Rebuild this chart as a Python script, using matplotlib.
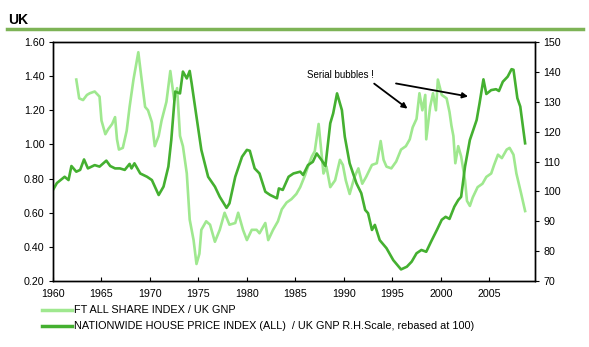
import matplotlib
matplotlib.use("Agg")
import matplotlib.pyplot as plt
from matplotlib.lines import Line2D

plt.rcParams['font.family'] = ['Liberation Sans', 'DejaVu Sans']

# FT All Share index / UK GNP (left scale)
share_years = [1962.4, 1962.7, 1963.1, 1963.5, 1963.8, 1964.3, 1964.8, 1965.0, 1965.4, 1965.7,
               1966.1, 1966.4, 1966.6, 1966.8, 1967.2, 1967.6, 1967.9, 1968.3, 1968.8, 1969.1,
               1969.5, 1969.8, 1970.2, 1970.5, 1970.9, 1971.2, 1971.7, 1972.1, 1972.5, 1972.8,
               1973.1, 1973.4, 1973.8, 1974.1, 1974.5, 1974.8, 1975.1, 1975.3, 1975.8, 1976.2,
               1976.7, 1977.2, 1977.7, 1978.2, 1978.8, 1979.1, 1979.6, 1980.0, 1980.5, 1981.0,
               1981.3, 1981.9, 1982.2, 1982.7, 1983.2, 1983.6, 1984.1, 1984.6, 1985.1, 1985.5,
               1986.0, 1986.3, 1986.7, 1987.0, 1987.4, 1987.9, 1988.2, 1988.6, 1989.1, 1989.6,
               1989.9, 1990.2, 1990.6, 1991.1, 1991.5, 1991.9, 1992.3, 1992.9, 1993.4, 1993.8,
               1994.1, 1994.4, 1994.9, 1995.4, 1995.9, 1996.4, 1996.8, 1997.1, 1997.5, 1997.8,
               1998.1, 1998.4, 1998.5, 1998.9, 1999.2, 1999.5, 1999.7, 2000.1, 2000.6, 2000.9,
               2001.1, 2001.3, 2001.5, 2001.8, 2002.1, 2002.5, 2002.7, 2003.0, 2003.3, 2003.8,
               2004.3, 2004.7, 2005.2, 2005.5, 2005.9, 2006.3, 2006.8, 2007.1, 2007.5, 2007.8,
               2008.3, 2008.7]
share_vals = [1.38, 1.27, 1.26, 1.29, 1.30, 1.31, 1.28, 1.14, 1.06, 1.09,
              1.12, 1.16, 1.03, 0.97, 0.98, 1.08, 1.22, 1.38, 1.54, 1.40,
              1.22, 1.20, 1.13, 0.99, 1.05, 1.14, 1.25, 1.43, 1.26, 1.33,
              1.05, 0.99, 0.83, 0.56, 0.44, 0.30, 0.36, 0.50, 0.55, 0.53,
              0.43, 0.50, 0.60, 0.53, 0.54, 0.60, 0.50, 0.44, 0.50, 0.50,
              0.48, 0.54, 0.44, 0.50, 0.55, 0.62, 0.66, 0.68, 0.71, 0.75,
              0.82, 0.87, 0.93, 0.96, 1.12, 0.83, 0.87, 0.75, 0.79, 0.91,
              0.88, 0.79, 0.71, 0.81, 0.86, 0.77, 0.81, 0.88, 0.89, 1.02,
              0.91, 0.87, 0.86, 0.90, 0.97, 0.99, 1.03, 1.10, 1.15, 1.30,
              1.20, 1.29, 1.03, 1.22, 1.30, 1.20, 1.38, 1.29, 1.27, 1.19,
              1.11, 1.05, 0.89, 0.99, 0.93, 0.79, 0.67, 0.64, 0.69, 0.75,
              0.77, 0.81, 0.83, 0.88, 0.94, 0.92, 0.97, 0.98, 0.94, 0.83,
              0.71, 0.61]

# Nationwide house price index / UK GNP, rebased at 100 (right scale)
house_years = [1960.0, 1960.4, 1961.2, 1961.6, 1961.9, 1962.4, 1962.8, 1963.2, 1963.6, 1964.3,
               1964.8, 1965.5, 1965.9, 1966.4, 1966.9, 1967.4, 1967.9, 1968.1, 1968.4, 1969.0,
               1969.7, 1970.2, 1970.9, 1971.4, 1971.9, 1972.2, 1972.6, 1973.1, 1973.4, 1973.8,
               1974.1, 1974.3, 1974.8, 1975.3, 1976.0, 1976.7, 1977.2, 1977.9, 1978.2, 1978.8,
               1979.5, 1980.0, 1980.3, 1980.8, 1981.3, 1981.9, 1982.4, 1983.1, 1983.3, 1983.7,
               1984.3, 1984.8, 1985.5, 1985.8, 1986.3, 1986.8, 1987.2, 1987.7, 1988.1, 1988.6,
               1988.9, 1989.3, 1989.8, 1990.1, 1990.6, 1991.3, 1991.8, 1992.2, 1992.5, 1992.9,
               1993.2, 1993.7, 1994.4, 1995.1, 1995.9, 1996.5, 1997.0, 1997.5, 1998.0, 1998.5,
               1999.0, 1999.6, 2000.1, 2000.5, 2000.9, 2001.4, 2001.8, 2002.1, 2002.5, 2003.0,
               2003.7, 2004.0, 2004.4, 2004.7, 2005.2, 2005.7, 2006.0, 2006.4, 2006.9, 2007.3,
               2007.5, 2007.9, 2008.2, 2008.7]
house_vals = [100.5, 102.8, 104.9, 103.8, 108.5, 106.6, 107.2, 110.7, 107.7, 108.8,
              108.3, 110.3, 108.5, 107.7, 107.7, 107.2, 109.2, 107.7, 109.4, 106.0,
              104.9, 103.8, 98.8, 101.6, 108.3, 117.2, 133.4, 132.8, 140.1, 137.8,
              140.3, 136.2, 125.0, 113.9, 104.9, 101.6, 98.2, 94.5, 96.0, 104.9,
              111.6, 113.9, 113.6, 107.7, 106.0, 99.9, 98.8, 97.7, 101.0, 100.5,
              104.9, 106.0, 106.6, 105.5, 108.8, 109.9, 112.7, 110.5, 108.5, 122.8,
              126.1, 132.8, 127.2, 118.3, 109.4, 102.7, 99.4, 93.8, 92.7, 87.1,
              88.8, 83.7, 81.0, 77.0, 73.9, 74.8, 76.5, 79.3, 80.4, 79.8,
              83.2, 87.1, 90.5, 91.5, 90.8, 94.9, 97.1, 98.2, 108.3, 117.2,
              123.9, 129.5, 137.5, 132.6, 133.9, 134.2, 133.6, 136.7, 138.4, 140.9,
              140.7, 131.2, 128.4, 116.1]

x_ticks = [1960, 1965, 1970, 1975, 1980, 1985, 1990, 1995, 2000, 2005]
left_ticks = [0.20, 0.40, 0.60, 0.80, 1.00, 1.20, 1.40, 1.60]
right_ticks = [70, 80, 90, 100, 110, 120, 130, 140, 150]

light = '#9fe88f'
dark = '#44b030'

fig = plt.figure(figsize=(5.89, 3.47), dpi=100)
ax = fig.add_axes([0.090, 0.190, 0.818, 0.689])
ax2 = ax.twinx()

ax.plot(share_years, share_vals, color=light, lw=1.9, solid_joinstyle='round', zorder=3)
ax2.plot(house_years, house_vals, color=dark, lw=1.9, solid_joinstyle='round', zorder=2)

ax.set_xlim(1960, 2009.7)
ax.set_ylim(0.2, 1.6)
ax2.set_ylim(70, 150)
ax.set_xticks(x_ticks)
ax.set_yticks(left_ticks)
ax2.set_yticks(right_ticks)
ax.set_yticklabels([f'{v:.2f}' for v in left_ticks])

for a in (ax, ax2):
    for s in a.spines.values():
        s.set_linewidth(1.0)
    a.tick_params(labelsize=7.7, length=3, width=0.8)
ax.tick_params(axis='x', direction='in', pad=6)
ax.tick_params(axis='y', direction='out', pad=3)
ax2.tick_params(axis='y', direction='out', pad=3)

# the annotation with two arrows
ax.text(1989.7, 1.407, 'Serial bubbles !', fontsize=7, ha='center', va='center')
arrow = dict(arrowstyle='-|>', color='black', lw=1.3, mutation_scale=8)
ax.annotate('', xy=(1996.8, 1.20), xytext=(1992.9, 1.366), arrowprops=arrow)
ax.annotate('', xy=(2003.1, 1.278), xytext=(1995.1, 1.36), arrowprops=arrow)

# header
fig.text(0.014, 0.942, 'UK', fontsize=10, fontweight='bold', va='center', ha='left')
fig.add_artist(Line2D([0.012, 0.99], [0.916, 0.916], color='#7db356', lw=2.5))

# legend below the plot
handles = [Line2D([], [], color=light, lw=2.5), Line2D([], [], color=dark, lw=2.5)]
labels = ['FT ALL SHARE INDEX / UK GNP',
          'NATIONWIDE HOUSE PRICE INDEX (ALL)  / UK GNP R.H.Scale, rebased at 100)']
fig.legend(handles, labels, loc='upper left', bbox_to_anchor=(0.072, 0.12),
           frameon=False, fontsize=7.8, handlelength=2.7, handletextpad=0.2,
           labelspacing=0.55, borderaxespad=0, borderpad=0)

fig.savefig('out.png', dpi=100)
